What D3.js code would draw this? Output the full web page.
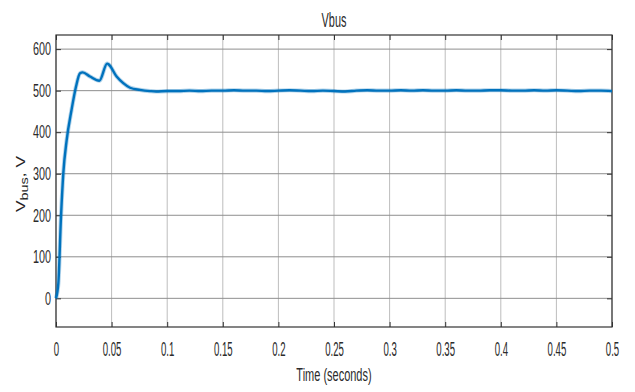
<!DOCTYPE html>
<html>
<head>
<meta charset="utf-8">
<script src="https://cdn.jsdelivr.net/npm/d3@7"></script>
<style>
  html, body { margin: 0; padding: 0; background: #fff; }
  svg { display: block; }
  .lbl { font-family: "Liberation Sans", Arial, sans-serif; fill: #2b2b2b; }
</style>
</head>
<body>
<div id="chart"></div>
<script>
// ── data ──
const timeSec = [0, 0.0021, 0.0045, 0.0066, 0.0096, 0.014, 0.018, 0.0216, 0.024, 0.0306, 0.039,
  0.046, 0.047, 0.0545, 0.0605, 0.0666, 0.0755, 0.0845, 0.09, 0.1, 0.11, 0.12, 0.13, 0.14, 0.15,
  0.16, 0.17, 0.18, 0.19, 0.2, 0.21, 0.22, 0.23, 0.24, 0.25, 0.26, 0.27, 0.28, 0.29, 0.3, 0.31,
  0.32, 0.33, 0.34, 0.35, 0.36, 0.37, 0.38, 0.39, 0.4, 0.41, 0.42, 0.43, 0.44, 0.45, 0.46, 0.47,
  0.48, 0.49, 0.5];
const vbus = [0, 36, 197, 302, 381, 454, 510, 542, 544, 534, 524,
  565, 564, 534, 518, 507, 502, 499, 498, 499, 499, 500, 499, 500, 500,
  501, 500, 500, 499, 500, 501, 500, 499, 500, 499, 498, 500, 501, 500, 500, 501,
  500, 501, 500, 500, 501, 500, 500, 501, 501, 500, 500, 501, 500, 501, 500, 499,
  500, 500, 499];
const xTicks = [0, 0.05, 0.1, 0.15, 0.2, 0.25, 0.3, 0.35, 0.4, 0.45, 0.5];
const xTickLabels = ['0', '0.05', '0.1', '0.15', '0.2', '0.25', '0.3', '0.35', '0.4', '0.45', '0.5'];
const yTicks = [0, 100, 200, 300, 400, 500, 600];

// ── layout ──
const W = 635, H = 392;
const m = { left: 56, top: 35, right: 23, bottom: 65 };
const iw = W - m.left - m.right;
const ih = H - m.top - m.bottom;

const x = d3.scaleLinear().domain([0, 0.5]).range([0, iw]);
const y = d3.scaleLinear().domain([-69, 634]).range([ih, 0]);

const svg = d3.select('#chart').append('svg')
  .attr('width', W).attr('height', H);

const g = svg.append('g').attr('transform', `translate(${m.left},${m.top})`);

// squeeze text horizontally (the reference font is tall and condensed)
function narrow(sel, k) {
  sel.each(function() {
    const len = this.getComputedTextLength();
    d3.select(this).attr('textLength', len * k).attr('lengthAdjust', 'spacingAndGlyphs');
  });
}

// grid
g.append('g').selectAll('line').data(xTicks).join('line')
  .attr('x1', d => x(d)).attr('x2', d => x(d))
  .attr('y1', 0).attr('y2', ih)
  .attr('stroke', '#bdbdbd').attr('stroke-width', 1);
g.append('g').selectAll('line').data(yTicks).join('line')
  .attr('x1', 0).attr('x2', iw)
  .attr('y1', d => y(d)).attr('y2', d => y(d))
  .attr('stroke', '#8e8e8e').attr('stroke-width', 1);

// axes (ticks inward, MATLAB-like)
const xAxis = d3.axisBottom(x).tickValues(xTicks).tickSize(-5).tickPadding(15)
  .tickFormat((d, i) => xTickLabels[i]);
const yAxis = d3.axisLeft(y).tickValues(yTicks).tickSize(-5).tickPadding(5);

const gx = g.append('g').attr('transform', `translate(0,${ih})`).call(xAxis);
const gy = g.append('g').call(yAxis);
g.append('g').attr('transform', `translate(${iw},0)`)
  .call(d3.axisRight(y).tickValues(yTicks).tickSize(-5).tickFormat(''));
g.append('g').call(d3.axisTop(x).tickValues(xTicks).tickSize(-5).tickFormat(''));

g.selectAll('.domain').remove();
g.selectAll('.tick line').attr('stroke', '#333');
[gx, gy].forEach(a => a.attr('font-family', null).attr('font-size', null));
gx.selectAll('text').attr('class', 'lbl').style('font-size', '20px').call(narrow, 0.48);
gy.selectAll('text').attr('class', 'lbl').style('font-size', '18px').call(narrow, 0.6);

// box
g.append('rect').attr('width', iw).attr('height', ih)
  .attr('fill', 'none').attr('stroke', '#333').attr('stroke-width', 1.2);

// trace
const pts = timeSec.map((t, i) => [t, vbus[i]]);
const line = d3.line().x(d => x(d[0])).y(d => y(d[1])).curve(d3.curveMonotoneX);
g.append('path').datum(pts).attr('d', line)
  .attr('fill', 'none').attr('stroke', '#0072BD').attr('stroke-width', 4.2).attr('stroke-opacity', 0.3);
g.append('path').datum(pts).attr('d', line)
  .attr('fill', 'none').attr('stroke', '#0072BD').attr('stroke-width', 2.4)
  .attr('stroke-linejoin', 'round');

// title
svg.append('text').attr('class', 'lbl')
  .attr('x', m.left + iw / 2).attr('y', 27).attr('text-anchor', 'middle')
  .style('font-size', '21px').text('Vbus').call(narrow, 0.52);

// x label
svg.append('text').attr('class', 'lbl')
  .attr('x', m.left + iw / 2).attr('y', 381).attr('text-anchor', 'middle')
  .style('font-size', '18px').text('Time (seconds)').call(narrow, 0.61);

// y label  V_bus, V
const yl = svg.append('text')
  .attr('transform', 'translate(25,184) rotate(-90) scale(1.45,1)')
  .attr('text-anchor', 'middle')
  .style('font-family', '"Liberation Sans", Arial, sans-serif')
  .style('font-size', '12px').style('fill', '#262626');
yl.append('tspan').text('V');
yl.append('tspan').attr('dy', 3).style('font-size', '10px').text('bus');
yl.append('tspan').attr('dy', -3).text(', V');
</script>
</body>
</html>
